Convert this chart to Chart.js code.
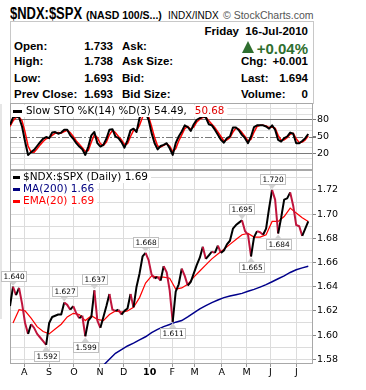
<!DOCTYPE html>
<html>
<head>
<meta charset="utf-8">
<script src="https://cdn.jsdelivr.net/npm/chart.js@4.4.1/dist/chart.umd.min.js"></script>
<style>
  body { margin:0; width:366px; height:390px; background:#fff; position:relative; overflow:hidden; font-family:"Liberation Sans", Arial, sans-serif; }
  .t { position:absolute; white-space:nowrap; line-height:1; }
  .b { font-weight:bold; font-size:11.5px; color:#000; }
  canvas { position:absolute; left:0; top:0; }
</style>
</head>
<body>
<div class="t" style="left:10px;top:4.8px;font:bold 16px 'Liberation Sans',sans-serif;transform:scaleX(0.81);transform-origin:0 0;">$NDX:$SPX</div>
<div class="t" style="left:86px;top:9.4px;font:bold 10.5px 'Liberation Sans',sans-serif;">(NASD 100/S...)</div>
<div class="t" style="left:168px;top:9.5px;font:10px 'Liberation Sans',sans-serif;">INDX/INDX</div>
<div class="t" style="left:223px;top:9.1px;font:10.5px 'Liberation Sans',sans-serif;color:#555;">© StockCharts.com</div>

<div style="position:absolute;left:10px;top:21px;width:304px;height:83px;border:1px solid #c8c8c8;box-sizing:border-box;"></div>
<div class="t b" style="right:58px;top:25.8px;">Friday&nbsp; 16-Jul-2010</div>

<div class="t b" style="left:14px;top:41px;">Open:</div>
<div class="t b" style="right:253px;top:41px;">1.733</div>
<div class="t b" style="left:122px;top:41px;">Ask:</div>
<div style="position:absolute;left:242px;top:41px;width:0;height:0;border-left:6.5px solid transparent;border-right:6.5px solid transparent;border-bottom:12px solid #2f6f2f;"></div>
<div class="t" style="right:58px;top:40px;font:bold 15px 'Liberation Sans',sans-serif;color:#2f6f2f;">+0.04%</div>

<div class="t b" style="left:14px;top:56.3px;">High:</div>
<div class="t b" style="right:253px;top:56.3px;">1.738</div>
<div class="t b" style="left:122px;top:56.3px;">Ask Size:</div>
<div class="t b" style="left:241px;top:56.3px;">Chg:</div>
<div class="t b" style="right:58px;top:56.3px;">+0.001</div>

<div class="t b" style="left:14px;top:72.6px;">Low:</div>
<div class="t b" style="right:253px;top:72.6px;">1.693</div>
<div class="t b" style="left:122px;top:72.6px;">Bid:</div>
<div class="t b" style="left:241px;top:72.6px;">Last:</div>
<div class="t b" style="right:58px;top:72.6px;">1.694</div>

<div class="t b" style="left:14px;top:89.3px;">Prev Close:</div>
<div class="t b" style="right:253px;top:89.3px;">1.693</div>
<div class="t b" style="left:122px;top:89.3px;">Bid Size:</div>
<div class="t b" style="left:241px;top:89.3px;">Volume:</div>
<div class="t b" style="right:58px;top:89.3px;">0</div>

<div style="position:absolute;left:0;top:104px;width:2px;height:215px;background:#e6e6e6;"></div>

<canvas id="sto" width="366" height="390"></canvas>
<canvas id="main" width="366" height="390"></canvas>

<script>
// trading days from 16-Jul-2009 (day 0) to 16-Jul-2010 (day 252)
const lastDay = 252;
const monthDay = [12, 33, 54, 76, 96, 118, 137, 156, 179, 200, 220, 242];
const monthLabel = ['A', 'S', 'O', 'N', 'D', '10', 'F', 'M', 'A', 'M', 'J', 'J'];

const priceTicks = [1.58, 1.60, 1.62, 1.64, 1.66, 1.68, 1.70, 1.72];
const priceGrid = [1.58, 1.59, 1.60, 1.61, 1.62, 1.63, 1.64, 1.65, 1.66, 1.67, 1.68, 1.69, 1.70, 1.71, 1.72, 1.73];
const stoTicks = [20, 50, 80];
const stoGrid = [0, 10, 20, 30, 40, 50, 60, 70, 80, 90, 100];

// NDX:SPX close, sampled every ~2.5 trading days
const price = [
  1.624, 1.640, 1.633, 1.639, 1.626, 1.610, 1.601, 1.609, 1.606, 1.601,
  1.598, 1.595, 1.592, 1.610, 1.615, 1.616, 1.617, 1.617, 1.627, 1.625,
  1.621, 1.624, 1.618, 1.614, 1.616, 1.599, 1.612, 1.615, 1.637, 1.612,
  1.606, 1.615, 1.624, 1.634, 1.621, 1.620, 1.621, 1.617, 1.620, 1.622,
  1.634, 1.623, 1.640, 1.651, 1.665, 1.668, 1.662, 1.650, 1.647, 1.648,
  1.645, 1.657, 1.652, 1.637, 1.611, 1.636, 1.642, 1.655, 1.649, 1.641,
  1.644, 1.651, 1.658, 1.664, 1.673, 1.663, 1.666, 1.669, 1.668, 1.674,
  1.668, 1.670, 1.675, 1.678, 1.688, 1.691, 1.693, 1.695, 1.686, 1.683,
  1.665, 1.681, 1.686, 1.685, 1.683, 1.688, 1.705, 1.720, 1.712, 1.684,
  1.697, 1.712, 1.713, 1.718, 1.707, 1.691, 1.690, 1.682, 1.688, 1.694
];
// points that carry a value label
const peakIdx = [1, 12, 18, 25, 28, 45, 54, 77, 80, 87, 89];

// EMA(20) and MA(200), every second price sample (odd ones)
const ema20 = [
  1.610, 1.621, 1.620, 1.614, 1.607, 1.603, 1.601, 1.605, 1.609, 1.615,
  1.618, 1.617, 1.612, 1.616, 1.613, 1.612, 1.617, 1.620, 1.619, 1.620,
  1.623, 1.631, 1.643, 1.649, 1.648, 1.648, 1.647, 1.638, 1.639, 1.642,
  1.648, 1.653, 1.658, 1.663, 1.667, 1.671, 1.675, 1.679, 1.683, 1.684,
  1.681, 1.681, 1.683, 1.694, 1.694, 1.698, 1.705, 1.701, 1.697, 1.694
];
const ma200 = [
  null, null, null, null, null, null, null, null, null, null,
  null, null, null, null, null, 1.575, 1.580, 1.585, 1.588, 1.591,
  1.5934, 1.596, 1.5986, 1.602, 1.6047, 1.607, 1.6088, 1.6107, 1.612, 1.615,
  1.6184, 1.6217, 1.6244, 1.6269, 1.629, 1.631, 1.6323, 1.6334, 1.6345, 1.6362,
  1.6378, 1.6397, 1.6417, 1.6441, 1.6466, 1.649, 1.6518, 1.654, 1.6556, 1.657
];

// Slow stochastic
const stoK = [
  71, 84, 86, 84, 68, 41, 17, 22, 26, 33,
  40, 46, 49, 47, 57, 58, 55, 57, 62, 62,
  52, 46, 38, 32, 27, 17, 32, 52, 58, 38,
  32, 35, 46, 62, 63, 50, 47, 40, 30, 43,
  61, 64, 58, 83, 95, 93, 80, 56, 38, 27,
  33, 35, 38, 29, 17, 38, 50, 59, 70, 67,
  60, 72, 80, 83, 86, 84, 72, 70, 62, 53,
  44, 39, 47, 50, 66, 66, 61, 53, 47, 38,
  50, 67, 70, 70, 70, 68, 64, 70, 62, 44,
  41, 47, 50, 57, 55, 38, 38, 42, 47, 54.49
];
const stoD = [
  68, 78, 84, 85, 78, 58, 33, 22, 22, 28,
  35, 41, 46, 48, 52, 56, 57, 56, 59, 61,
  57, 50, 42, 36, 30, 23, 25, 40, 53, 48,
  37, 34, 40, 53, 61, 57, 50, 44, 36, 37,
  50, 61, 61, 70, 85, 91, 86, 68, 48, 33,
  31, 34, 37, 33, 23, 28, 42, 53, 64, 68,
  63, 67, 76, 81, 84, 85, 78, 72, 66, 58,
  50, 42, 44, 48, 58, 65, 63, 57, 50, 42,
  45, 58, 68, 70, 70, 69, 66, 67, 65, 52,
  43, 44, 48, 54, 56, 46, 39, 40, 44, 50.68
];

const downColor = '#c0143c';
const gridColor = '#dcdcdc';

Chart.defaults.font.family = 'DejaVu Sans';
Chart.defaults.font.size = 9.5;
Chart.defaults.color = '#000';

function dayOf(i) {
  return i * lastDay / (price.length - 1);
}
function pts(arr) {
  return arr.map((v, i) => ({ x: dayOf(i), y: v }));
}
function halfPts(arr) {
  return arr.map((v, k) => ({ x: dayOf(2 * k + 1), y: v }));
}
function hasLabel(list, v) {
  return list.some(t => Math.abs(t - v) < 1e-6);
}

const frame = {
  id: 'frame',
  beforeDatasetsDraw(chart) {
    const a = chart.chartArea, ctx = chart.ctx;
    ctx.save();
    ctx.strokeStyle = '#a8a8a8';
    ctx.lineWidth = 1;
    ctx.strokeRect(Math.round(a.left) + 0.5, Math.round(a.top) + 0.5, Math.round(a.right - a.left) - 1, Math.round(a.bottom - a.top) - 1);
    ctx.restore();
  }
};

function xScale(height, showLabels) {
  return {
    type: 'linear', min: 0, max: 256,
    afterBuildTicks: s => { s.ticks = monthDay.map(v => ({ value: v })); },
    afterFit: s => { s.height = height; },
    grid: { color: gridColor, drawTicks: showLabels, tickLength: 3, tickColor: '#999' },
    border: { display: false },
    ticks: {
      display: showLabels, autoSkip: false, maxRotation: 0, padding: 0,
      callback: (v, i) => monthLabel[i],
      font: c => ({ family: 'DejaVu Sans', size: 9.5, weight: monthLabel[c.index] === '10' ? 'bold' : 'normal' })
    }
  };
}

// ---- stochastics panel ----
const midLine = {
  id: 'midLine',
  beforeDatasetsDraw(chart) {
    const a = chart.chartArea, ctx = chart.ctx;
    const y = Math.round(chart.scales.y.getPixelForValue(50)) + 0.5;
    ctx.save();
    ctx.strokeStyle = '#7a7a7a';
    ctx.lineWidth = 1;
    ctx.setLineDash([7, 2, 2, 2]);
    ctx.beginPath();
    ctx.moveTo(a.left, y);
    ctx.lineTo(a.right + 3, y);
    ctx.stroke();
    ctx.restore();
  }
};
const stoLegend = {
  id: 'stoLegend',
  afterDatasetsDraw(chart) {
    const a = chart.chartArea, ctx = chart.ctx;
    const y = a.top + 8;
    const t1 = 'Slow STO %K(14) %D(3) ' + stoK[stoK.length - 1].toFixed(2) + ',';
    const t2 = stoD[stoD.length - 1].toFixed(2);
    ctx.save();
    ctx.font = '10.3px "DejaVu Sans"';
    ctx.textBaseline = 'middle';
    const w1 = ctx.measureText(t1).width, w2 = ctx.measureText(t2).width;
    ctx.fillStyle = '#fff';
    ctx.fillRect(a.left + 1, y - 6, 16 + w1 + 8 + w2 + 2, 12);
    ctx.fillStyle = '#000';
    ctx.fillRect(a.left + 3, y - 1, 9, 3);
    ctx.fillText(t1, a.left + 16, y + 0.5);
    ctx.fillStyle = '#e00000';
    ctx.fillText(t2, a.left + 16 + w1 + 8, y + 0.5);
    ctx.restore();
  }
};

new Chart(document.getElementById('sto'), {
  type: 'line',
  data: {
    datasets: [
      { data: pts(stoK), borderColor: '#000', borderWidth: 2, pointRadius: 0, borderJoinStyle: 'round' },
      { data: pts(stoD), borderColor: '#ff0000', borderWidth: 1.5, pointRadius: 0, borderJoinStyle: 'round' }
    ]
  },
  options: {
    responsive: false, animation: false,
    layout: { padding: { left: 10, top: 103, right: 0, bottom: 0 } },
    plugins: { legend: { display: false }, tooltip: { enabled: false } },
    scales: {
      x: xScale(220, false),
      y: {
        position: 'right', min: -10, max: 110,
        afterBuildTicks: s => { s.ticks = stoGrid.map(v => ({ value: v })); },
        afterFit: s => { s.width = 53; },
        grid: {
          tickLength: 3,
          color: c => c.tick.value === 50 ? 'rgba(0,0,0,0)' : (hasLabel(stoTicks, c.tick.value) ? '#7a7a7a' : '#e0e0e0'),
          tickColor: c => hasLabel(stoTicks, c.tick.value) ? '#7a7a7a' : 'rgba(0,0,0,0)'
        },
        border: { display: false },
        ticks: { padding: 1, autoSkip: false, callback: v => hasLabel(stoTicks, v) ? String(v) : '' }
      }
    }
  },
  plugins: [frame, midLine, stoLegend]
});

// ---- price panel ----
const mainLegend = {
  id: 'mainLegend',
  afterDatasetsDraw(chart) {
    const a = chart.chartArea, ctx = chart.ctx;
    const rows = [
      { text: '$NDX:$SPX (Daily) ' + price[price.length - 1].toFixed(2), color: '#000' },
      { text: 'MA(200) ' + ma200[ma200.length - 1].toFixed(2), color: '#000080' },
      { text: 'EMA(20) ' + ema20[ema20.length - 1].toFixed(2), color: '#ff0000' }
    ];
    ctx.save();
    ctx.font = '10.5px "DejaVu Sans"';
    ctx.textBaseline = 'middle';
    rows.forEach((r, k) => {
      const y = a.top + 7 + k * 12;
      const w = ctx.measureText(r.text).width;
      ctx.fillStyle = '#fff';
      ctx.fillRect(a.left + 1, y - 6, w + 15, 12);
      ctx.fillStyle = r.color;
      ctx.fillRect(a.left + 3, y - 1, 7, 3);
      ctx.fillText(r.text, a.left + 13, y + 0.5);
    });
    ctx.restore();
  }
};
const peakLabels = {
  id: 'peakLabels',
  afterDatasetsDraw(chart) {
    const xs = chart.scales.x, ys = chart.scales.y, ctx = chart.ctx;
    ctx.save();
    ctx.font = '7.4px "DejaVu Sans"';
    ctx.textAlign = 'center';
    ctx.textBaseline = 'middle';
    peakIdx.forEach(i => {
      const px = xs.getPixelForValue(dayOf(i));
      const py = ys.getPixelForValue(price[i]);
      const up = price[i] >= price[i - 1] && price[i] >= price[i + 1];
      const bw = 25, bh = 10, gap = 6;
      const bx = Math.round(px - bw / 2) + 0.5;
      const by = Math.round(up ? py - gap - bh : py + gap) + 0.5;
      ctx.fillStyle = '#d2d2d2';
      ctx.beginPath();
      if (up) { ctx.moveTo(px - 4, by + bh); ctx.lineTo(px + 4, by + bh); ctx.lineTo(px, py - 1); }
      else { ctx.moveTo(px - 4, by); ctx.lineTo(px + 4, by); ctx.lineTo(px, py + 1); }
      ctx.fill();
      ctx.fillStyle = '#fff';
      ctx.fillRect(bx, by, bw, bh);
      ctx.strokeStyle = '#c0c0c0';
      ctx.lineWidth = 1;
      ctx.strokeRect(bx, by, bw, bh);
      ctx.fillStyle = '#000';
      ctx.fillText(price[i].toFixed(3), bx + bw / 2, by + bh / 2 + 0.5);
    });
    ctx.restore();
  }
};

new Chart(document.getElementById('main'), {
  type: 'line',
  data: {
    datasets: [
      {
        data: pts(price), borderColor: '#000', borderWidth: 2, pointRadius: 0, borderJoinStyle: 'round',
        segment: { borderColor: c => c.p1.parsed.y < c.p0.parsed.y ? downColor : '#000' }
      },
      { data: halfPts(ema20), borderColor: '#ff0000', borderWidth: 1.2, pointRadius: 0 },
      { data: halfPts(ma200), borderColor: '#00008b', borderWidth: 1.5, pointRadius: 0 }
    ]
  },
  options: {
    responsive: false, animation: false,
    layout: { padding: { left: 10, top: 170, right: 0, bottom: 0 } },
    plugins: { legend: { display: false }, tooltip: { enabled: false } },
    scales: {
      x: xScale(26, true),
      y: {
        position: 'right', min: 1.5761, max: 1.7365,
        afterBuildTicks: s => { s.ticks = priceGrid.map(v => ({ value: v })); },
        afterFit: s => { s.width = 53; },
        grid: {
          color: gridColor, tickLength: 3,
          tickColor: c => hasLabel(priceTicks, c.tick.value) ? '#888' : 'rgba(0,0,0,0)'
        },
        border: { display: false },
        ticks: { padding: 1, autoSkip: false, callback: v => hasLabel(priceTicks, v) ? v.toFixed(2) : '' }
      }
    }
  },
  plugins: [frame, mainLegend, peakLabels]
});
</script>
</body>
</html>
